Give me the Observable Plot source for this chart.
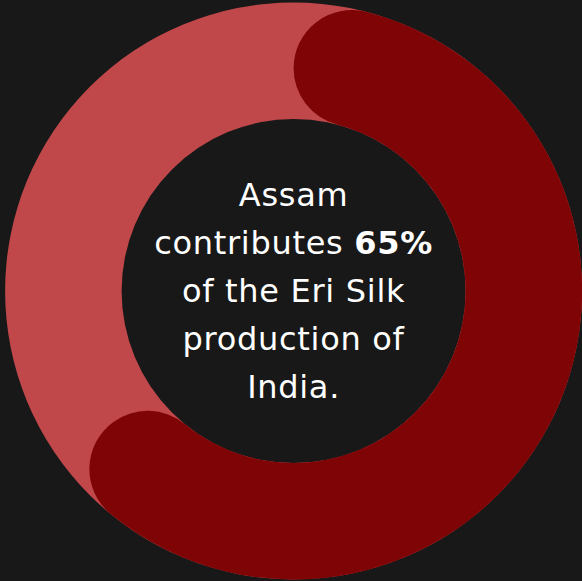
<!DOCTYPE html>
<html>
<head>
<meta charset="utf-8">
<script src="https://cdn.jsdelivr.net/npm/d3@7"></script>
<script src="https://cdn.jsdelivr.net/npm/@observablehq/plot@0.6"></script>
<style>
  html, body { margin: 0; padding: 0; background: #181818; overflow: hidden; }
  #chart svg { display: block; }
</style>
</head>
<body>
<div id="chart"></div>
<script>
// Data
const categories = ["Assam", "Rest of India"];
const shares = [65, 35];
const highlight = "65%";
const textLines = [
  ["Assam"],
  ["contributes ", "65%"],
  ["of the Eri Silk"],
  ["production of"],
  ["India."]
];

const colors = { track: "#c1484a", arc: "#7e0405", bg: "#181818", text: "#ffffff" };

const W = 582, H = 581;
const outerR = 288.5, innerR = 172;

const total = d3.sum(shares);
const segs = shares.map((v, i) => ({ category: categories[i], value: v }));

function donutMark(index, scales) {
  const cx = scales.x(0), cy = scales.y(0);
  const ro = scales.x(outerR) - cx, ri = scales.x(innerR) - cx;
  const g = d3.create("svg:g");
  const track = d3.arc().innerRadius(ri).outerRadius(ro);
  g.append("path")
    .attr("transform", `translate(${cx},${cy})`)
    .attr("fill", colors.track)
    .attr("d", track({ startAngle: 0, endAngle: 2 * Math.PI }));
  const end = (segs[0].value / total) * 2 * Math.PI;
  const arc = d3.arc().innerRadius(ri).outerRadius(ro).cornerRadius((ro - ri) / 2);
  g.append("path")
    .attr("transform", `translate(${cx},${cy})`)
    .attr("fill", colors.arc)
    .attr("d", arc({ startAngle: 0, endAngle: end }));
  return g.node();
}

function textMark(index, scales) {
  const cx = scales.x(0), cy = scales.y(0);
  const lh = 48;
  const g = d3.create("svg:g");
  const t = g.append("text")
    .attr("text-anchor", "middle")
    .attr("fill", colors.text)
    .attr("font-family", "'DejaVu Sans', sans-serif")
    .attr("font-size", 32)
    .attr("letter-spacing", 0.7);
  textLines.forEach((parts, i) => {
    const y = cy - 85 + i * lh;
    parts.forEach((p, j) => {
      const ts = t.append("tspan").text(p);
      if (j === 0) ts.attr("x", cx).attr("y", y);
      if (p === highlight) ts.attr("font-weight", "bold");
      else ts.attr("font-weight", 400);
    });
  });
  return g.node();
}

const plot = Plot.plot({
  width: W,
  height: H,
  margin: 0,
  style: { background: colors.bg },
  x: { domain: [-293.6, W - 293.6], range: [0, W], axis: null },
  y: { domain: [-291, H - 291], range: [0, H], axis: null },
  marks: [donutMark, textMark]
});
document.getElementById("chart").append(plot);
</script>
</body>
</html>
